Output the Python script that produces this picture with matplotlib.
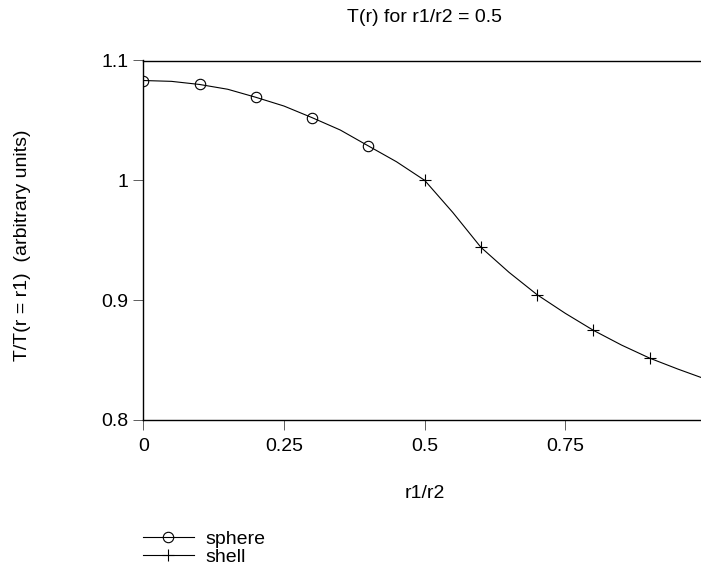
#!/usr/bin/env python3
import matplotlib
matplotlib.use("Agg")
import matplotlib.pyplot as plt

plt.rcParams["font.family"] = ["Liberation Sans", "DejaVu Sans"]
plt.rcParams["font.size"] = 14

# values
sphere_x = [0.0, 0.05, 0.1, 0.15, 0.2, 0.25, 0.3, 0.35, 0.4, 0.45, 0.5]
sphere_y = [1.0833, 1.0826, 1.0800, 1.0760, 1.0693, 1.0620, 1.0523, 1.0420,
            1.0287, 1.0155, 1.0000]
sphere_marks = [0, 2, 4, 6, 8]

shell_x = [0.5, 0.55, 0.6, 0.65, 0.7, 0.75, 0.8, 0.85, 0.9, 0.95, 1.0]
shell_y = [1.0000, 0.9732, 0.9441, 0.9232, 0.9045, 0.8890, 0.8748, 0.8625,
           0.8516, 0.8425, 0.8340]
shell_marks = [0, 2, 4, 6, 8]

xticks = [0, 0.25, 0.5, 0.75]
xtick_labels = ["0", "0.25", "0.5", "0.75"]
yticks = [0.8, 0.9, 1.0, 1.1]
ytick_labels = ["0.8", "0.9", "1", "1.1"]

W, H = 701, 569
fig = plt.figure(figsize=(W / 100, H / 100), dpi=100)

# axes box in pixels: x 143..706 (runs past the right edge), y 60.5..420
left, right, top, bottom = 143.3, 706.0, 60.5, 420.0
ax = fig.add_axes([left / W, (H - bottom) / H, (right - left) / W, (bottom - top) / H])

ax.plot(sphere_x, sphere_y, color="black", lw=0.8, marker="o", markevery=sphere_marks,
        ms=7.5, mfc="none", mec="black", mew=0.8, label="sphere")
ax.plot(shell_x, shell_y, color="black", lw=0.8, marker="+", markevery=shell_marks,
        ms=8, mec="black", mew=0.8, label="shell")

ax.set_xlim(0, 1.0)
ax.set_ylim(0.8, 1.1)
ax.set_xticks(xticks)
ax.set_xticklabels(xtick_labels)
ax.set_yticks(yticks)
ax.set_yticklabels(ytick_labels)
ax.tick_params(direction="out", length=7.2, width=0.6, color="#444444")
ax.tick_params(axis="x", pad=6)
ax.tick_params(axis="y", pad=3.5)

ax.spines["right"].set_visible(False)
for s in ["left", "top", "bottom"]:
    ax.spines[s].set_linewidth(1.0)

fig.text(424.5 / W, 1 - 18 / H, "T(r) for r1/r2 = 0.5", ha="center", va="center")
fig.text(424.5 / W, 1 - 493 / H, "r1/r2", ha="center", va="center")
fig.text(22.5 / W, 1 - 245 / H, "T/T(r = r1)  (arbitrary units)", ha="center",
         va="center", rotation=90)

handles, labels = ax.get_legend_handles_labels()
leg = fig.legend(handles, labels, loc="upper left",
                 bbox_to_anchor=(143 / W, 1 - 530 / H), frameon=False,
                 borderaxespad=0, borderpad=0, handlelength=2.6,
                 handletextpad=0.6, labelspacing=0.05)
# legend shows the marker once, centred on the line
for h in leg.legend_handles:
    h.set_markevery([1])

fig.savefig("out.png", dpi=100)
